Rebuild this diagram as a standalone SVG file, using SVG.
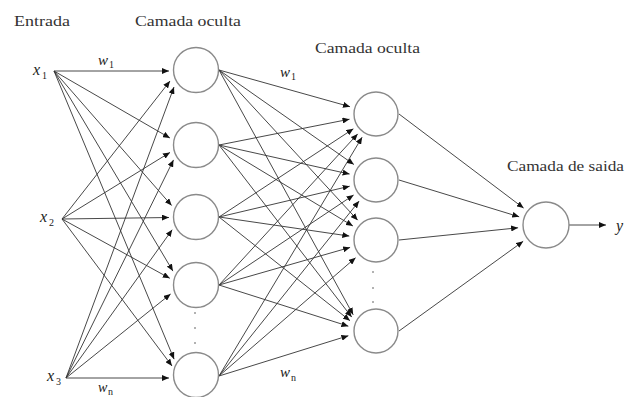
<svg xmlns="http://www.w3.org/2000/svg" width="627" height="397" viewBox="0 0 627 397">
<style>
.lbl{font-family:"Liberation Serif","DejaVu Serif",serif;font-size:14px;fill:#333}
.math{font-family:"Liberation Serif","DejaVu Serif",serif;font-style:italic;fill:#222}
.sub{font-family:"Liberation Serif","DejaVu Serif",serif;font-size:10px;fill:#222}
.node{fill:#fff;stroke:#8a8a8a;stroke-width:1.4}
.e{stroke:#333;stroke-width:0.9;fill:none;marker-end:url(#ah)}
.dot{fill:#999}
</style>
<defs>
<marker id="ah" markerUnits="userSpaceOnUse" markerWidth="7" markerHeight="6" refX="7" refY="3" orient="auto">
<path d="M0,0 L7,3 L0,6 z" fill="#111"/>
</marker>
</defs>
<rect width="627" height="397" fill="#fff"/>
<g id="connectors">
<line class="e" x1="54" y1="71" x2="169" y2="71"/>
<line class="e" x1="62" y1="219" x2="170" y2="81"/>
<line class="e" x1="66" y1="378" x2="174" y2="87"/>
<line class="e" x1="54" y1="71" x2="169.9" y2="138"/>
<line class="e" x1="62" y1="219" x2="170" y2="152.4"/>
<line class="e" x1="66" y1="378" x2="173.5" y2="159.9"/>
<line class="e" x1="54" y1="71" x2="171.6" y2="205.5"/>
<line class="e" x1="62" y1="219" x2="169" y2="217.5"/>
<line class="e" x1="66" y1="378" x2="172.2" y2="229.7"/>
<line class="e" x1="54" y1="71" x2="172.9" y2="271.1"/>
<line class="e" x1="62" y1="219" x2="169.8" y2="278.3"/>
<line class="e" x1="66" y1="378" x2="170.6" y2="294"/>
<line class="e" x1="54" y1="71" x2="174.1" y2="359.2"/>
<line class="e" x1="62" y1="219" x2="172" y2="366"/>
<line class="e" x1="66" y1="378" x2="169" y2="378"/>
<line class="e" x1="219" y1="70" x2="350" y2="106.7"/>
<line class="e" x1="219" y1="145" x2="349.5" y2="119.2"/>
<line class="e" x1="219" y1="217" x2="353.4" y2="128.8"/>
<line class="e" x1="219" y1="285" x2="357.7" y2="133.9"/>
<line class="e" x1="219" y1="376" x2="362.1" y2="137.2"/>
<line class="e" x1="219" y1="70" x2="353.9" y2="164.5"/>
<line class="e" x1="219" y1="145" x2="349.6" y2="174.1"/>
<line class="e" x1="219" y1="217" x2="349.7" y2="186.2"/>
<line class="e" x1="219" y1="285" x2="353.6" y2="195"/>
<line class="e" x1="219" y1="376" x2="359.1" y2="201.1"/>
<line class="e" x1="219" y1="70" x2="357.7" y2="220.2"/>
<line class="e" x1="219" y1="145" x2="352.9" y2="226"/>
<line class="e" x1="219" y1="217" x2="349.3" y2="236.1"/>
<line class="e" x1="219" y1="285" x2="350.1" y2="247.4"/>
<line class="e" x1="219" y1="376" x2="355.6" y2="257.7"/>
<line class="e" x1="219" y1="70" x2="353.2" y2="314.8"/>
<line class="e" x1="219" y1="145" x2="351.7" y2="317.1"/>
<line class="e" x1="219" y1="217" x2="350" y2="320.7"/>
<line class="e" x1="219" y1="285" x2="348.4" y2="326.2"/>
<line class="e" x1="219" y1="376" x2="348.4" y2="335.7"/>
<line class="e" x1="399" y1="114" x2="523.6" y2="208.1"/>
<line class="e" x1="399" y1="180" x2="519.2" y2="216.8"/>
<line class="e" x1="399" y1="240" x2="518.1" y2="227.8"/>
<line class="e" x1="399" y1="331" x2="523.2" y2="241.3"/>
<line class="e" x1="569" y1="225" x2="606" y2="225"/>
</g>
<g id="h1_1"><circle class="node" cx="196" cy="70" r="22.5"/></g>
<g id="h1_2"><circle class="node" cx="196" cy="145" r="22.5"/></g>
<g id="h1_3"><circle class="node" cx="196" cy="217" r="22.5"/></g>
<g id="h1_4"><circle class="node" cx="196" cy="285" r="22.5"/></g>
<g id="h1_5"><circle class="node" cx="196" cy="375" r="22.5"/></g>
<g id="h1_dots"><circle class="dot" cx="195" cy="313" r="1"/><circle class="dot" cx="195" cy="328" r="1"/><circle class="dot" cx="195" cy="343" r="1"/></g>
<g id="h2_1"><circle class="node" cx="376" cy="114" r="22"/></g>
<g id="h2_2"><circle class="node" cx="376" cy="180" r="22"/></g>
<g id="h2_3"><circle class="node" cx="376" cy="240" r="22"/></g>
<g id="h2_4"><circle class="node" cx="376" cy="331" r="22"/></g>
<g id="h2_dots"><circle class="dot" cx="373" cy="272" r="1"/><circle class="dot" cx="373" cy="288" r="1"/><circle class="dot" cx="373" cy="302" r="1"/></g>
<g id="out"><circle class="node" cx="546" cy="225" r="23"/></g>
<g id="x1"><text class="math" x="33" y="75" font-size="16">x</text><text class="sub" x="42" y="79">1</text></g>
<g id="x2"><text class="math" x="40" y="222" font-size="16">x</text><text class="sub" x="49" y="226">2</text></g>
<g id="x3"><text class="math" x="47" y="381" font-size="16">x</text><text class="sub" x="56" y="385">3</text></g>
<g id="labels">
<text class="lbl" x="14" y="26" textLength="56" lengthAdjust="spacingAndGlyphs">Entrada</text>
<text class="lbl" x="135" y="26" textLength="106" lengthAdjust="spacingAndGlyphs">Camada oculta</text>
<text class="lbl" x="315" y="53" textLength="105" lengthAdjust="spacingAndGlyphs">Camada oculta</text>
<text class="lbl" x="507" y="171" textLength="117" lengthAdjust="spacingAndGlyphs">Camada de saida</text>
<text class="math" x="98" y="65" font-size="15">w</text><text class="sub" x="109" y="68">1</text>
<text class="math" x="280" y="77" font-size="15">w</text><text class="sub" x="291" y="80">1</text>
<text class="math" x="280" y="377" font-size="15">w</text><text class="sub" x="291" y="381">n</text>
<text class="math" x="98" y="392" font-size="14">w</text><text class="sub" x="108" y="395" font-size="9">n</text>
<text class="math" x="616" y="231" font-size="16">y</text>
</g>
</svg>
